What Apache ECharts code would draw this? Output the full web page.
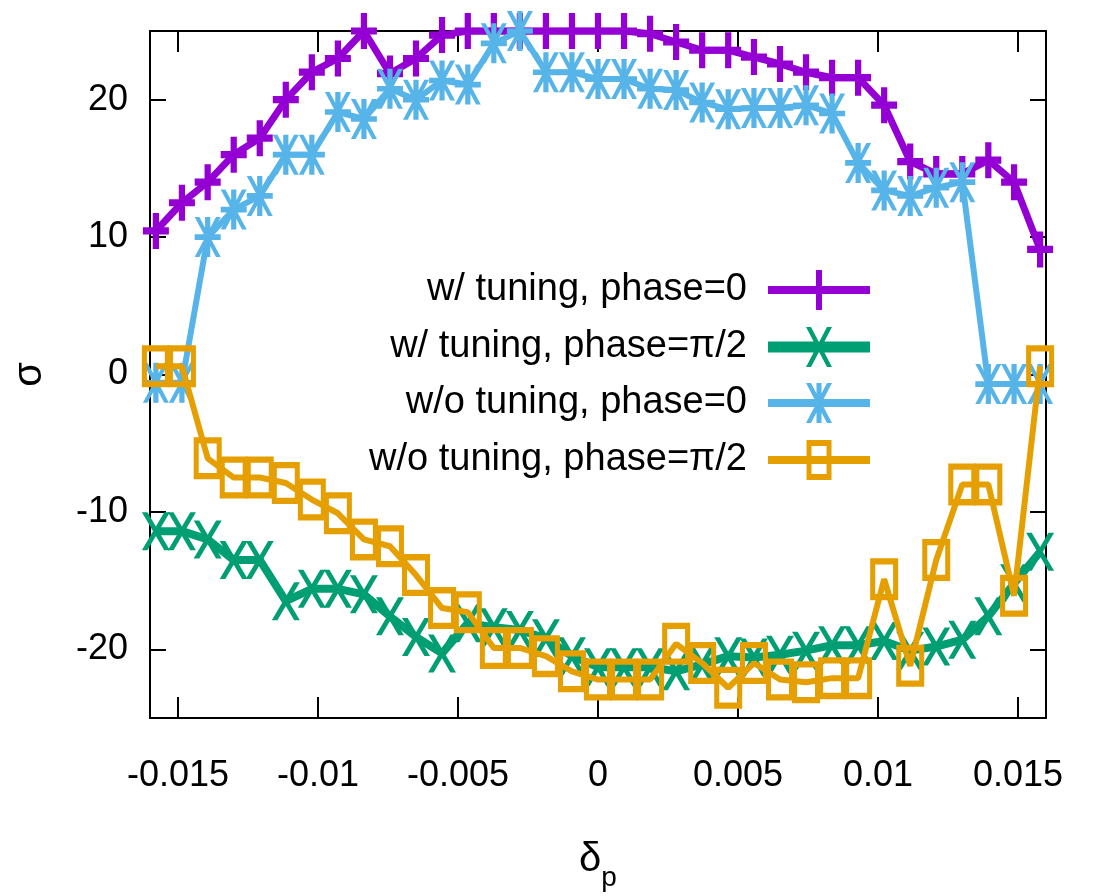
<!DOCTYPE html>
<html>
<head>
<meta charset="utf-8">
<script src="https://cdn.jsdelivr.net/npm/echarts@6/dist/echarts.min.js"></script>
<style>
html,body{margin:0;padding:0;background:#fff;}
#chart{width:1094px;height:896px;}
</style>
</head>
<body>
<div id="chart"></div>
<script>
// delta_p sample positions
const deltaP = [-0.01579,-0.01486,-0.01394,-0.01301,-0.01208,-0.01115,-0.01022,-0.00929,-0.00836,-0.00743,-0.00650,-0.00557,-0.00465,-0.00372,-0.00279,-0.00186,-0.00093,
  0,0.00093,0.00186,0.00279,0.00372,0.00465,0.00557,0.00650,0.00743,0.00836,0.00929,0.01022,0.01115,0.01208,0.01301,0.01394,0.01486,0.01579];

const seriesNames = ['w/ tuning, phase=0','w/ tuning, phase=\u03c0/2','w/o tuning, phase=0','w/o tuning, phase=\u03c0/2'];

const withTuningPhase0 = [10.45,12.5,14.0,16.0,17.2,20.0,22.0,23.0,25.0,21.9,23.0,24.7,25,25,25,25,25,
  25.0,25.0,24.8,24.2,23.6,23.6,23.1,22.6,22.0,21.6,21.6,19.6,15.5,14.6,14.6,15.6,14.0,9.1];
const withTuningPhasePi2 = [-11.4,-11.4,-12.0,-13.5,-13.5,-16.5,-15.6,-15.6,-16.0,-17.6,-19.1,-20.3,-18.1,-18.4,-18.6,-19.2,-20.5,
  -21.3,-21.3,-21.3,-21.6,-21.1,-20.5,-20.6,-20.4,-20.1,-19.7,-19.7,-19.4,-20.1,-19.8,-19.3,-17.6,-15.2,-12.9];
const withoutTuningPhase0 = [-0.6,-0.6,10.0,12.0,13.0,16.0,16.0,19.1,18.6,20.8,20.0,21.4,21.1,24.1,25.0,22.0,22.0,
  21.5,21.5,20.8,20.7,19.8,19.3,19.4,19.4,19.6,19.0,15.4,13.4,13.0,13.6,14.0,-0.7,-0.7,-0.7];
const withoutTuningPhasePi2 = [0.6,0.6,-6.1,-7.5,-7.5,-7.9,-9.1,-10.1,-12.0,-12.5,-14.6,-17.0,-17.3,-19.9,-19.9,-20.5,-21.6,
  -22.2,-22.2,-22.2,-19.6,-21.0,-22.8,-21.0,-22.2,-22.4,-22.1,-22.1,-14.9,-21.2,-13.5,-8.0,-8.0,-16.1,0.6];

const xTicks = [-0.015,-0.01,-0.005,0,0.005,0.01,0.015];
const yTicks = [-20,-10,0,10,20];

const colors = ['#9400d3','#009e73','#56b4e9','#e69f00'];

const symPlus = 'path://M38,0 H62 V100 H38 Z M0,40 H100 V60 H0 Z';
const symCross = 'path://M0,0 H20 L100,100 H80 Z M80,0 H100 L20,100 H0 Z';
const symStar = 'path://M40,0 H60 V100 H40 Z M0,43 H100 V57 H0 Z M0,0 H18 L100,100 H82 Z M82,0 H100 L18,100 H0 Z';
const symSquare = 'path://M0,0 H100 V100 H0 Z M18,15 V85 H82 V15 Z';

const legPlus = 'path://M0,16 H102 V24 H0 Z M48,0 H54 V40 H48 Z';
const legCross = 'path://M0,14.5 H102 V25.5 H0 Z M38,0 H43 L64,40 H59 Z M59,0 H64 L43,40 H38 Z';
const legStar = 'path://M0,16 H102 V24 H0 Z M48.5,0 H53.5 V40 H48.5 Z M38,0 H43 L64,40 H59 Z M59,0 H64 L43,40 H38 Z';
const legSquare = 'path://M0,16 H102 V24 H0 Z M38.5,0 H63.5 V40 H38.5 Z M43.5,6 V34 H58.5 V6 Z';

const FONT = "'Liberation Sans', Arial, sans-serif";

function pairs(ys){ return deltaP.map((x,i)=>[x, ys[i]]); }

const seriesDefs = [
  {data: withTuningPhase0, sym: symPlus, size:[26,36], lw:7, leg: legPlus},
  {data: withTuningPhasePi2, sym: symCross, size:[28,38], lw:8, leg: legCross},
  {data: withoutTuningPhase0, sym: symStar, size:[26,40], lw:6, leg: legStar},
  {data: withoutTuningPhasePi2, sym: symSquare, size:[28,42], lw:6, leg: legSquare}
];

const legendTops = [270, 327, 383, 440];

const chart = echarts.init(document.getElementById('chart'), null, {renderer:'canvas'});

const axisCommon = {
  type:'value',
  axisLine:{show:true, onZero:false, lineStyle:{color:'#000', width:2}},
  splitLine:{show:false}
};

const option = {
  animation:false,
  backgroundColor:'#fff',
  grid:{left:150, right:48, top:31, bottom:178, containLabel:false, outerBoundsMode:'none'},
  legend: seriesDefs.map((s,i)=>({
    data:[{name:seriesNames[i], icon:s.leg}],
    right:224, top:legendTops[i],
    orient:'vertical', align:'right',
    itemWidth:102, itemHeight:40, padding:0,
    symbolKeepAspect:false,
    selectedMode:false,
    textStyle:{fontFamily:FONT, fontSize:38, color:'#000', padding:[0,16,0,0]}
  })),
  xAxis:[
    Object.assign({}, axisCommon, {
      position:'bottom', min:-0.016, max:0.016,
      name:'{d|\u03b4}{p|p}', nameLocation:'middle', nameGap:122,
      nameTextStyle:{fontFamily:FONT, color:'#000',
        rich:{d:{fontFamily:FONT, fontSize:40, lineHeight:40, verticalAlign:'top', color:'#000'},
              p:{fontFamily:FONT, fontSize:28, lineHeight:28, padding:[24,0,0,0], verticalAlign:'top', color:'#000'}}},
      axisTick:{show:true, inside:true, length:21, lineStyle:{color:'#000', width:2}, customValues:xTicks},
      axisLabel:{show:true, margin:40, fontFamily:FONT, fontSize:36, color:'#000', customValues:xTicks,
        formatter:(v)=>String(+(+v).toFixed(3))}
    }),
    Object.assign({}, axisCommon, {
      position:'top', min:-0.016, max:0.016,
      axisTick:{show:true, inside:true, length:21, lineStyle:{color:'#000', width:2}, customValues:xTicks},
      axisLabel:{show:false}
    })
  ],
  yAxis:[
    Object.assign({}, axisCommon, {
      position:'left', min:-25, max:25,
      name:'\u03c3', nameLocation:'middle', nameGap:100, nameRotate:90,
      nameTextStyle:{fontFamily:FONT, fontSize:40, color:'#000'},
      axisTick:{show:true, inside:true, length:16, lineStyle:{color:'#000', width:2}, customValues:yTicks},
      axisLabel:{show:true, margin:22, fontFamily:FONT, fontSize:36, color:'#000', customValues:yTicks}
    }),
    Object.assign({}, axisCommon, {
      position:'right', min:-25, max:25,
      axisTick:{show:true, inside:true, length:16, lineStyle:{color:'#000', width:2}, customValues:yTicks},
      axisLabel:{show:false}
    })
  ],
  series: seriesDefs.map((s,i)=>({
    type:'line',
    name:seriesNames[i],
    data:pairs(s.data),
    xAxisIndex:0, yAxisIndex:0,
    symbol:s.sym, symbolSize:s.size, symbolKeepAspect:false,
    showAllSymbol:true,
    clip:true,
    lineStyle:{color:colors[i], width:s.lw},
    itemStyle:{color:colors[i], borderWidth:0},
    emphasis:{disabled:true},
    z:2+i
  }))
};

chart.setOption(option);
</script>
</body>
</html>
